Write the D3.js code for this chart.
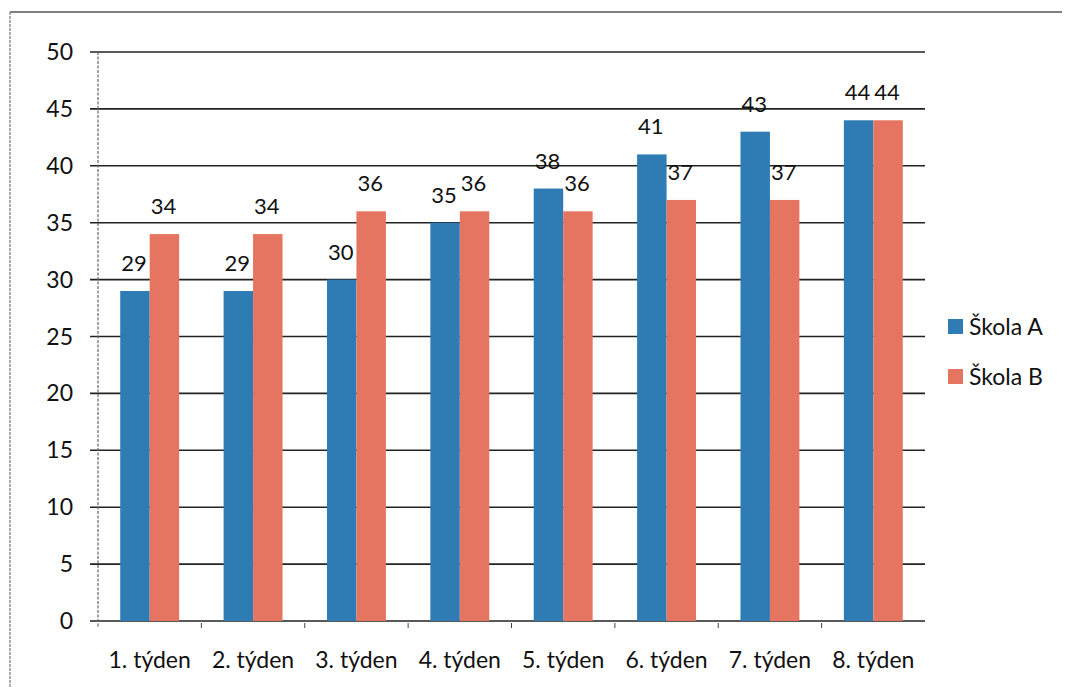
<!DOCTYPE html>
<html>
<head>
<meta charset="utf-8">
<script src="https://cdn.jsdelivr.net/npm/d3@7"></script>
<style>
  html, body { margin: 0; padding: 0; background: #fff; }
  svg { display: block; }
  text { font-family: Lato, "Open Sans", sans-serif; fill: #111; }
</style>
</head>
<body>
<svg id="chart" width="1066" height="687"></svg>
<script>
const weeks = ["1. týden", "2. týden", "3. týden", "4. týden", "5. týden", "6. týden", "7. týden", "8. týden"];
const seriesNames = ["Škola A", "Škola B"];
const skolaA = [29, 29, 30, 35, 38, 41, 43, 44];
const skolaB = [34, 34, 36, 36, 36, 37, 37, 44];
const yTicks = [0, 5, 10, 15, 20, 25, 30, 35, 40, 45, 50];
const colors = ["#2f7bb4", "#e57560"];

const svg = d3.select("#chart");

// frame lines around the chart area
svg.append("line").attr("x1", 10).attr("x2", 1062).attr("y1", 12).attr("y2", 12)
  .attr("stroke", "#555").attr("stroke-width", 1.5);
svg.append("line").attr("x1", 10).attr("x2", 10).attr("y1", 12).attr("y2", 687)
  .attr("stroke", "#777").attr("stroke-width", 1.2).attr("stroke-dasharray", "3,1");

const plotLeft = 98, plotRight = 925, plotTop = 52, plotBottom = 621;

const x = d3.scaleBand().domain(weeks).range([plotLeft, plotRight]).padding(0);
const x1 = d3.scaleBand().domain(seriesNames)
  .range([x.bandwidth() * 0.215, x.bandwidth() * 0.785]).padding(0);
const y = d3.scaleLinear().domain([0, 50]).range([plotBottom, plotTop]);

// horizontal gridlines with small ticks left of the axis
svg.append("g").selectAll("line").data(yTicks).join("line")
  .attr("x1", plotLeft - 8).attr("x2", plotRight)
  .attr("y1", d => y(d)).attr("y2", d => y(d))
  .attr("stroke", "#222").attr("stroke-width", 1.6);

// y axis labels
svg.append("g").selectAll("text").data(yTicks).join("text")
  .attr("x", 73).attr("y", d => y(d)).attr("dy", "0.35em")
  .attr("text-anchor", "end").attr("font-size", 23)
  .text(d => d);

// vertical axis line
svg.append("line").attr("x1", plotLeft).attr("x2", plotLeft)
  .attr("y1", plotTop).attr("y2", plotBottom + 6)
  .attr("stroke", "#666").attr("stroke-width", 1.2).attr("stroke-dasharray", "3,1.5");

// category boundary ticks below the axis
svg.append("g").selectAll("line").data(weeks.slice(1)).join("line")
  .attr("x1", d => x(d)).attr("x2", d => x(d))
  .attr("y1", plotBottom + 2).attr("y2", plotBottom + 7)
  .attr("stroke", "#444").attr("stroke-width", 1);

// bars
const rows = weeks.map((w, i) => ({ week: w, values: [skolaA[i], skolaB[i]] }));
const groups = svg.append("g").selectAll("g").data(rows).join("g")
  .attr("transform", d => `translate(${x(d.week)},0)`);

groups.selectAll("rect").data(d => d.values.map((v, k) => ({ key: seriesNames[k], v, k })))
  .join("rect")
  .attr("x", d => x1(d.key))
  .attr("width", x1.bandwidth())
  .attr("y", d => y(d.v))
  .attr("height", d => y(0) - y(d.v))
  .attr("fill", d => colors[d.k]);

// value labels
groups.selectAll("text").data(d => d.values.map((v, k) => ({ key: seriesNames[k], v, k })))
  .join("text")
  .attr("x", d => x1(d.key) + x1.bandwidth() / 2 - 1)
  .attr("y", d => y(d.v) - 20)
  .attr("text-anchor", "middle").attr("font-size", 22)
  .text(d => d.v);

// x axis labels
svg.append("g").selectAll("text").data(weeks).join("text")
  .attr("x", d => x(d) + x.bandwidth() / 2).attr("y", 668)
  .attr("text-anchor", "middle").attr("font-size", 23)
  .text(d => d);

// legend
const legend = svg.append("g").selectAll("g").data(seriesNames).join("g")
  .attr("transform", (d, i) => `translate(948,${327 + i * 50})`);
legend.append("rect").attr("x", 0).attr("y", -8).attr("width", 15).attr("height", 15)
  .attr("fill", (d, i) => colors[i]);
legend.append("text").attr("x", 21).attr("y", 0).attr("dy", "0.35em")
  .attr("font-size", 23).text(d => d);
</script>
</body>
</html>
